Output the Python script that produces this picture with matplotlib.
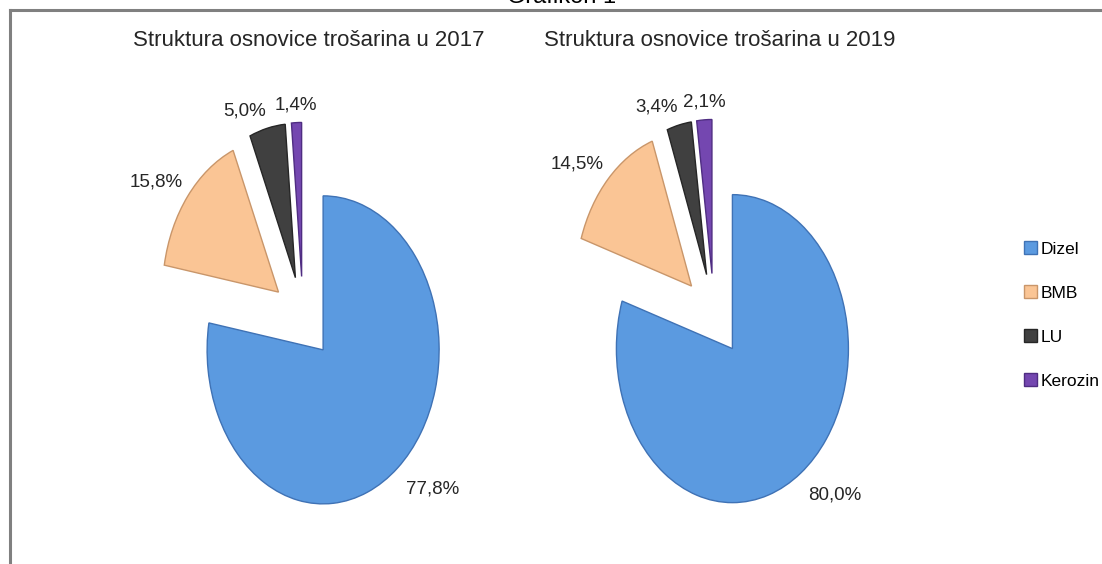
import numpy as np
import matplotlib.pyplot as plt
from matplotlib.lines import Line2D

# -----------------------------
# DATA
# -----------------------------
categories = ['Dizel', 'BMB', 'LU', 'Kerozin']
share_2017 = [77.8, 15.8, 5.0, 1.4]
share_2019 = [80.0, 14.5, 3.4, 2.1]
titles = ['Struktura osnovice trošarina u 2017',
          'Struktura osnovice trošarina u 2019']

colors = ['#5b9ae0', '#fac595', '#404040', '#7447b0']
edges = ['#3f72b5', '#c9966a', '#262626', '#4f2d82']

plt.rcParams['font.family'] = ['Liberation Sans', 'DejaVu Sans']

W, H = 1102, 564
fig = plt.figure(figsize=(W / 100, H / 100), dpi=100)

# pixel geometry of each pie (center x, center y from top), radius in px
rx, ry = 116, 154
centers = [(303, 318), (714, 315)]
half_w = 200


def draw_pie(cx, cy, values, title):
    left = (cx - half_w) / W
    ax = fig.add_axes([left, 0, 2 * half_w / W, 1])
    wedges, _ = ax.pie(values, colors=colors, startangle=90, counterclock=False,
                       explode=[0.27] * len(values),
                       wedgeprops=dict(linewidth=1.0))
    for w, ec in zip(wedges, edges):
        w.set_edgecolor(ec)
    ax.set_aspect('auto')
    ax.set_xlim(-half_w / rx, half_w / rx)
    ax.set_ylim(-(H - cy) / ry, cy / ry)
    ax.axis('off')

    # data labels just outside each wedge
    for w, v in zip(wedges, values):
        th = np.deg2rad((w.theta1 + w.theta2) / 2)
        c, s = np.cos(th), np.sin(th)
        ha = 'center' if abs(c) < 0.1 else ('left' if c > 0 else 'right')
        va = 'center' if abs(s) < 0.3 else ('bottom' if s > 0 else 'top')
        r = 1.33 if s > 0 else 1.38
        lab = f'{v:.1f}'.replace('.', ',') + '%'
        ax.text(r * c, r * s, lab, ha=ha, va=va, fontsize=13.5,
                color='#262626')

    fig.text((cx + 6) / W, 1 - 40 / H, title, ha='center', va='center',
             fontsize=16, color='#262626')
    return wedges


handles = None
for (cx, cy), vals, t in zip(centers, [share_2017, share_2019], titles):
    handles = draw_pie(cx, cy, vals, t)

# legend on the right
fig.legend(handles, categories, loc='center left',
           bbox_to_anchor=(1015 / W, 1 - 315 / H), frameon=False,
           fontsize=12.5, handlelength=0.75, handleheight=0.75,
           handletextpad=0.2, labelspacing=1.65, borderpad=0)

# frame of the surrounding box and cut off caption
fig.add_artist(Line2D([10 / W, 1], [1 - 10 / H, 1 - 10 / H],
                      transform=fig.transFigure, color='#808080', lw=2.2))
fig.add_artist(Line2D([10 / W, 10 / W], [0, 1 - 10 / H],
                      transform=fig.transFigure, color='#808080', lw=2.2))
fig.text(562 / W, 1 - 3 / H, 'Grafikon 1', ha='center', va='baseline',
         fontsize=17)

fig.savefig('out.png', dpi=100)
